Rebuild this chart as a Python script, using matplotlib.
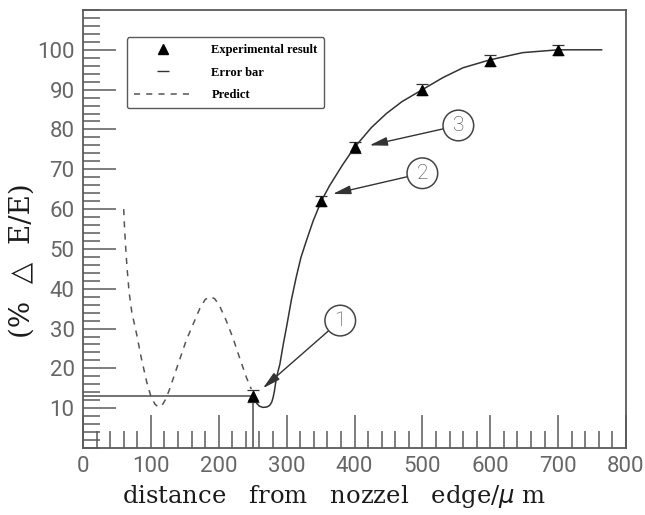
import numpy as np
import matplotlib
matplotlib.use("Agg")
import matplotlib.pyplot as plt
from matplotlib.lines import Line2D

# measured points with error bars
exp_x = [250, 350, 400, 500, 600, 700]
exp_y = [13, 62, 75.5, 90, 97.3, 100]
exp_err = [1.5, 1.3, 1.3, 1.3, 1.3, 1.3]

# fitted curve through the measurements
fit_x = [253, 256, 260, 265, 271, 275, 278, 280, 282, 285, 290, 295, 300, 307, 314, 321, 329, 339,
         351, 363, 382, 400, 425, 447, 470, 500, 530, 560, 600, 648, 700, 764]
fit_y = [12.3, 11.2, 10.5, 10.2, 10.3, 10.7, 11.5, 12.6, 14.3, 17.7, 21, 26, 30.5, 37.2, 42.8, 47.8, 52, 57,
         62, 65.8, 71, 75.5, 80.5, 84, 87, 90, 93, 95.5, 97.5, 99.3, 100, 100]

# predicted values
pred_x = [60, 61, 63, 65, 68, 72, 79, 86, 94, 100, 106, 111, 116, 121, 127, 135, 143, 152, 162, 172,
          180, 187, 194, 201, 211, 221, 231, 241, 248]
pred_y = [60, 56, 50, 45, 39, 34, 28.6, 22.5, 16.5, 13, 11, 10.3, 10.6, 12, 14.5, 18.5, 22.5, 27, 31, 35,
          37.3, 38, 37.5, 35.8, 32, 27.6, 22.5, 17.6, 14.8]

# callouts: label, arrow tip, circle centre
call_lbl = ["1", "2", "3"]
call_tip = [(265, 15), (368, 63.8), (422, 76)]
call_txt = [(379, 32), (500, 69), (553, 81)]

ref_x = 250
ref_y = 13

fig = plt.figure(figsize=(6.45, 5.15), dpi=100)
ax = fig.add_axes([83/645, 67/515, 543/645, 438/515])

gray = "#5a5a5a"
ax.plot([0, ref_x], [ref_y, ref_y], color=gray, lw=1.2)
ax.plot([ref_x, ref_x], [0, ref_y], color=gray, lw=1.2)

ax.plot(fit_x, fit_y, color="#333333", lw=1.1)
ax.plot(pred_x, pred_y, color="#555555", lw=1.1, dashes=(4, 4))
ax.errorbar(exp_x, exp_y, yerr=exp_err, fmt="^", color="black", ms=7,
            ecolor="#333333", elinewidth=0.8, capsize=4, capthick=0.9)

for lbl, tip, txt in zip(call_lbl, call_tip, call_txt):
  ax.annotate(lbl, xy=tip, xytext=txt, ha="center", va="center",
              fontsize=15, color="#444444", family=["Roboto", "DejaVu Sans"], fontweight="light",
              bbox=dict(boxstyle="circle,pad=0.28", fc="white", ec="#444444", lw=1.1),
              arrowprops=dict(arrowstyle="-|>,head_length=0.9,head_width=0.22", color="#333333",
                              lw=1.0, shrinkA=0, shrinkB=0, mutation_scale=12))

ax.set_xlim(0, 800)
ax.set_ylim(0, 110)
ax.set_xticks(np.arange(0, 801, 100))
ax.set_xticks(np.arange(0, 801, 20), minor=True)
ax.set_yticks(np.arange(10, 101, 10))
ax.set_yticks(np.arange(0, 111, 2), minor=True)
ax.tick_params(which="both", direction="in", color=gray, width=1.1, top=False, right=False)
ax.tick_params(which="major", length=24, pad=6, labelsize=16, labelcolor="#666666")
ax.tick_params(which="minor", length=12)
for lab in ax.get_xticklabels() + ax.get_yticklabels():
  lab.set_family(["Roboto", "DejaVu Sans"])
  lab.set_fontweight("normal")
for s in ax.spines.values():
  s.set_color(gray)
  s.set_linewidth(1.3)

fig.text(334/645, 1 - 497/515, "distance   from   nozzel   edge/$\\mu$ m", ha="center", va="center",
         fontsize=17.5, family="DejaVu Serif", color="#1a1a1a")
fig.text(22/645, 1 - 261/515, "(%  \u25b3  E/E)", ha="center", va="center", rotation=90,
         fontsize=20, family=["DejaVu Serif", "DejaVu Sans"], color="#1a1a1a")

handles = [Line2D([], [], marker="^", color="black", ls="none", ms=7),
           Line2D([], [], marker="_", color="#333333", ls="none", ms=9, mew=1.0),
           Line2D([], [], color="#555555", lw=1.1, dashes=(4, 4))]
labels = ["Experimental result", "Error bar", "Predict"]
leg = ax.legend(handles, labels, loc="upper left", bbox_to_anchor=(0.081, 0.938),
                prop=dict(family="Liberation Serif", weight="bold", size=9),
                handlelength=4.6, handletextpad=1.6, labelspacing=0.85, borderpad=0.55,
                borderaxespad=0, fancybox=True, framealpha=1)
leg.get_frame().set_edgecolor(gray)
leg.get_frame().set_linewidth(1.0)

fig.savefig("out.png", dpi=100)
